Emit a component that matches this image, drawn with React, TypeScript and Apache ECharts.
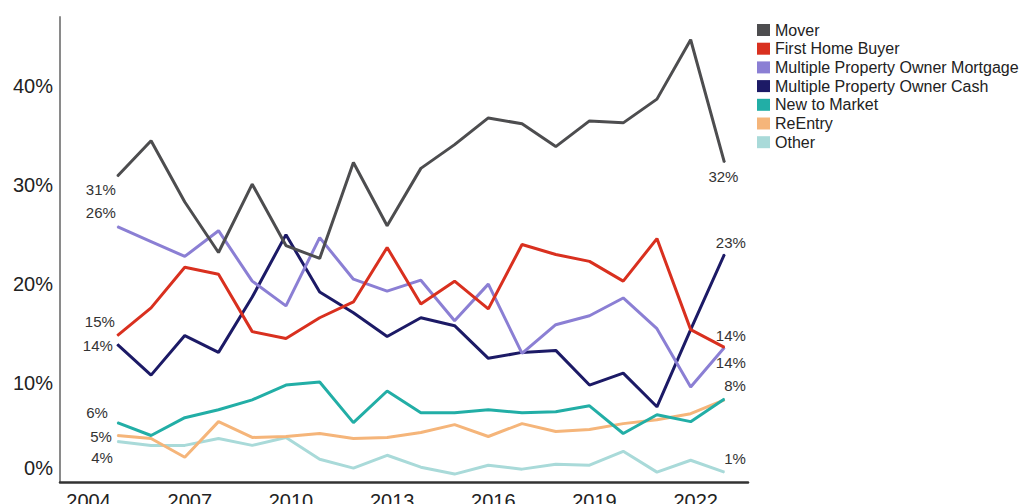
import React, { useEffect, useRef } from "react";
import * as echarts from "echarts";

const years = [2005, 2006, 2007, 2008, 2009, 2010, 2011, 2012, 2013, 2014, 2015, 2016, 2017, 2018, 2019, 2020, 2021, 2022, 2023];
const xTickLabels = [2004, 2007, 2010, 2013, 2016, 2019, 2022];
const yTickValues = [0, 10, 20, 30, 40];

const seriesNames = [
  "Mover",
  "First Home Buyer",
  "Multiple Property Owner Mortgage",
  "Multiple Property Owner Cash",
  "New to Market",
  "ReEntry",
  "Other",
];

const mover = [30.9, 34.5, 28.3, 23.2, 30.1, 23.9, 22.6, 32.3, 25.9, 31.7, 34.1, 36.8, 36.2, 33.9, 36.5, 36.3, 38.7, 44.7, 32.3];
const firstHomeBuyer = [14.8, 17.6, 21.7, 21.0, 15.2, 14.5, 16.6, 18.2, 23.7, 18.0, 20.3, 17.5, 24.0, 23.0, 22.3, 20.3, 24.6, 15.4, 13.6];
const mpoMortgage = [25.8, 24.3, 22.8, 25.4, 20.3, 17.8, 24.7, 20.5, 19.3, 20.4, 16.3, 20.0, 13.0, 15.9, 16.8, 18.6, 15.5, 9.6, 13.6];
const mpoCash = [13.9, 10.8, 14.8, 13.1, 18.7, 25.0, 19.2, 17.1, 14.7, 16.6, 15.8, 12.5, 13.1, 13.3, 9.8, 11.0, 7.6, 15.4, 23.0];
const newToMarket = [6.0, 4.7, 6.5, 7.3, 8.3, 9.8, 10.1, 6.0, 9.2, 7.0, 7.0, 7.3, 7.0, 7.1, 7.7, 4.9, 6.8, 6.1, 8.4];
const reEntry = [4.7, 4.4, 2.5, 6.1, 4.5, 4.6, 4.9, 4.4, 4.5, 5.0, 5.8, 4.6, 5.9, 5.1, 5.3, 5.9, 6.3, 6.9, 8.3];
const other = [4.1, 3.7, 3.7, 4.4, 3.7, 4.5, 2.3, 1.4, 2.7, 1.5, 0.8, 1.7, 1.3, 1.8, 1.7, 3.1, 1.0, 2.2, 1.0];

const allValues = [mover, firstHomeBuyer, mpoMortgage, mpoCash, newToMarket, reEntry, other];

// styling (not data)
const colors = ["#4d4d4f", "#d9301f", "#8b7fd4", "#1c1a66", "#22aea6", "#f5b57a", "#a9dad9"];
const startOffsets: number[][] = [[-1, 13], [-2, -14], [-1, -14], [-4, 1], [-9, -10], [-5, 1], [-4, 16]];
const endLabelStyles: any[] = [
  { show: true, position: "bottom", distance: 6, offset: [-1, 0] },
  { show: true, position: "right", distance: 21, align: "right", offset: [0, -12] },
  { show: true, position: "right", distance: 21, align: "right", offset: [0, 15] },
  { show: true, position: "right", distance: 21, align: "right", offset: [0, -12] },
  { show: true, position: "right", distance: 21, align: "right", offset: [0, -13] },
  { show: false },
  { show: true, position: "right", distance: 21, align: "right", offset: [0, -14] },
];

const FONT = "'Liberation Sans', Arial, Helvetica, sans-serif";

export default function App() {
  const ref = useRef<HTMLDivElement>(null);
  useEffect(() => {
    document.body.style.margin = "0";
    if (!ref.current) return;
    const chart = echarts.init(ref.current, null, { renderer: "svg" });
    const labelBase = {
      fontSize: 15,
      color: "#333",
      fontFamily: FONT,
      formatter: (p: any) => Math.round(p.value[1]) + "%",
    };
    const series = seriesNames.map((name, si) => {
      const vals = allValues[si];
      const data = years.map((yr, i) => {
        const item: any = { value: [yr, vals[i]] };
        if (i === 0) {
          item.label = { ...labelBase, show: true, position: "left", distance: 0, offset: startOffsets[si] };
        } else if (i === years.length - 1) {
          item.label = { ...labelBase, ...endLabelStyles[si] };
        }
        return item;
      });
      return {
        name,
        type: "line",
        data,
        showSymbol: true,
        symbol: "circle",
        symbolSize: 1,
        itemStyle: { color: colors[si] },
        lineStyle: { color: colors[si], width: 3 },
        label: { show: false },
        z: 10 - si,
      };
    });
    chart.setOption({
      animation: false,
      backgroundColor: "#ffffff",
      textStyle: { fontFamily: FONT },
      grid: { left: 60, right: 274, top: 17, bottom: 22, containLabel: false, outerBoundsMode: "none" },
      legend: {
        orient: "vertical",
        left: 757,
        top: 22,
        padding: 0,
        icon: "rect",
        itemWidth: 13,
        itemHeight: 12,
        itemGap: 2.7,
        textStyle: { fontSize: 16, color: "#222", fontFamily: FONT, lineHeight: 16 },
        data: seriesNames,
      },
      xAxis: {
        type: "value",
        min: 2003.3,
        max: 2023.7,
        axisLine: { show: true, lineStyle: { color: "#333", width: 2.5 } },
        axisTick: { show: false },
        splitLine: { show: false },
        axisLabel: {
          customValues: xTickLabels,
          formatter: (v: number) => String(v),
          fontSize: 20,
          color: "#222",
          margin: 9,
          padding: [0, 0, 0, 10],
          fontFamily: FONT,
        },
      },
      yAxis: {
        type: "value",
        min: 0,
        max: 47,
        axisLine: { show: true, lineStyle: { color: "#8a8a8a", width: 2 } },
        axisTick: { show: false },
        splitLine: { show: false },
        axisLabel: {
          customValues: yTickValues,
          formatter: (v: number) => (v === 0 ? "{z|0%}" : v + "%"),
          fontSize: 20,
          color: "#222",
          margin: 7,
          fontFamily: FONT,
          rich: { z: { fontSize: 20, color: "#222", fontFamily: FONT, padding: [0, 0, 28, 0] } },
        },
      },
      series,
    });
    return () => chart.dispose();
  }, []);
  return <div ref={ref} style={{ width: 1022, height: 504 }} />;
}
